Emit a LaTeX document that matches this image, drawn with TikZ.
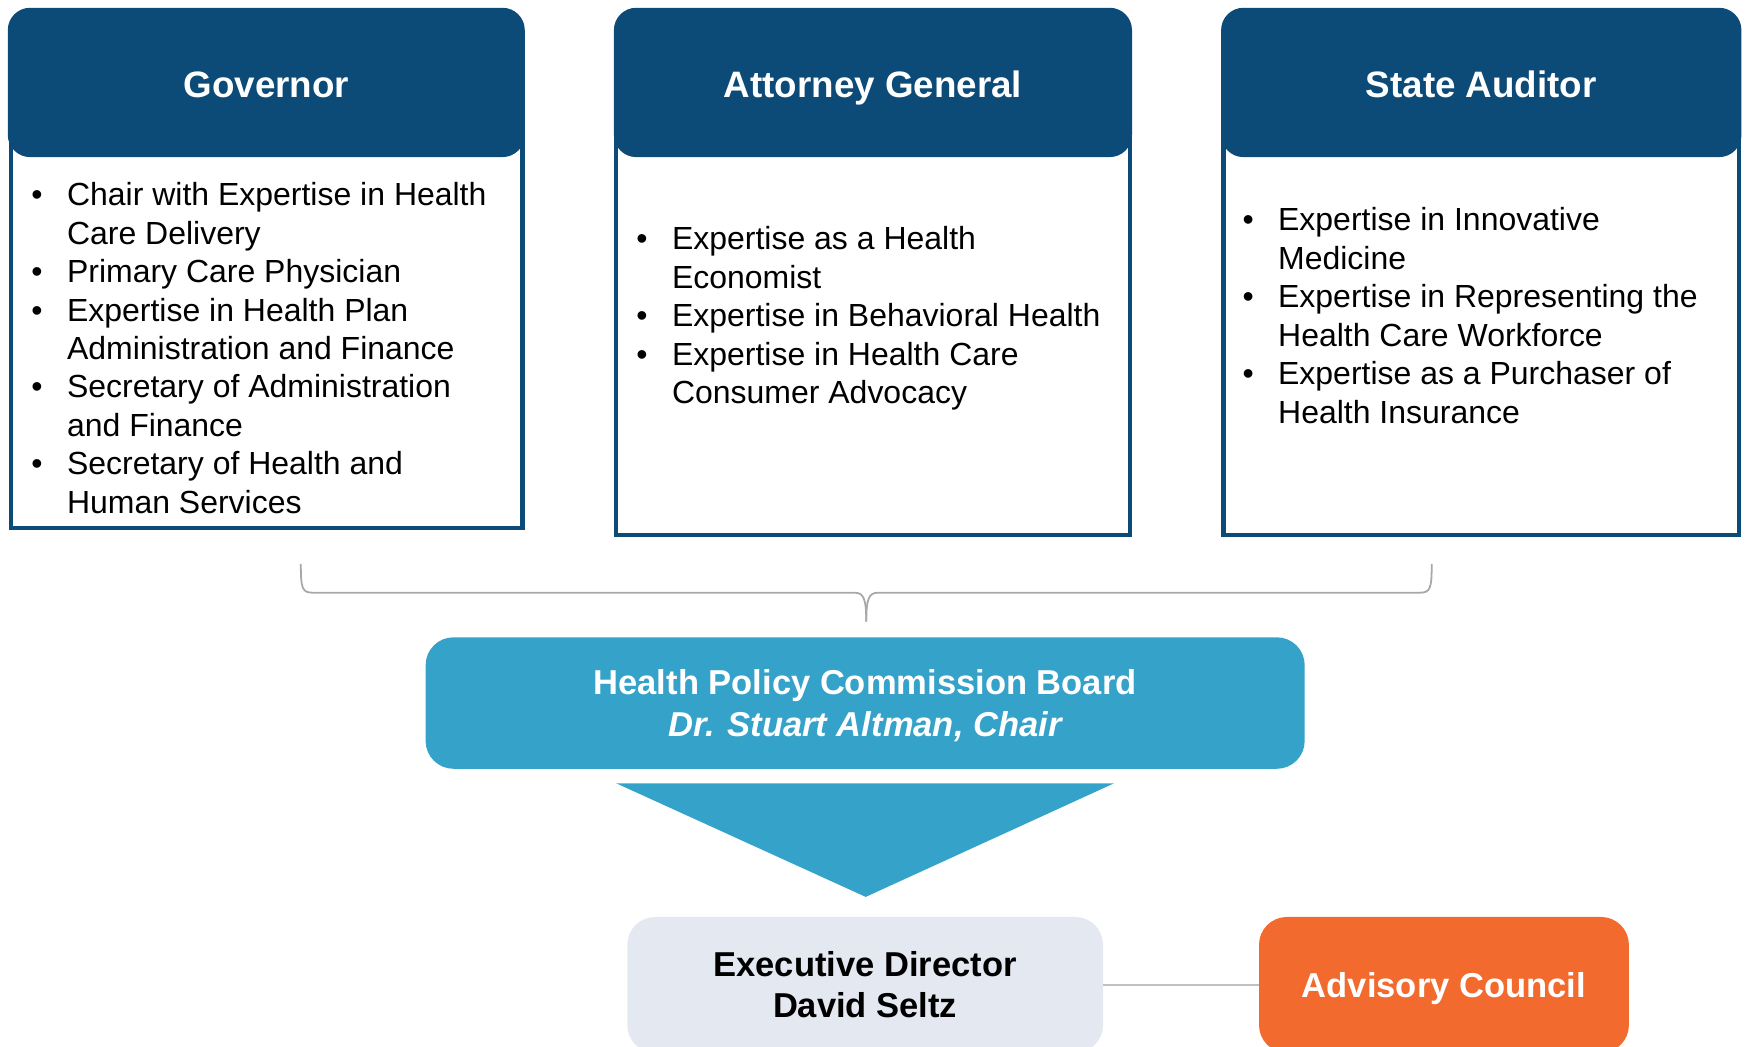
\documentclass[tikz,border=0pt]{standalone}
\usepackage{fontspec}
\setmainfont{Liberation Sans}
\definecolor{navy}{HTML}{0C4A77}
\definecolor{hpcblue}{HTML}{35A2C9}
\definecolor{execgray}{HTML}{E4E8F0}
\definecolor{advorange}{HTML}{F26A2D}
\definecolor{bracegray}{HTML}{A8A8A8}
\definecolor{linkgray}{HTML}{C0C0C0}
\begin{document}
\begin{tikzpicture}[x=1pt,y=-1pt,
  hdr/.style={fill=navy, rounded corners=20pt, text=white, inner sep=0pt,
    text height=27.2pt, text depth=0pt,
    font=\fontsize{33}{40}\selectfont\bfseries},
  boxo/.style={draw=navy, line width=4pt, inner sep=0pt},
  lst/.style={anchor=north west, inner sep=0pt, align=left,
    font=\fontsize{28.7}{34.5}\selectfont},
  bottombox/.style={rounded corners=25pt, inner sep=0pt, align=center,
    font=\fontsize{31}{37}\selectfont\bfseries},
  bracel/.style={draw=bracegray, line width=1.6pt},
  linkl/.style={draw=linkgray, line width=2pt}]
\useasboundingbox (0,0) rectangle (1568,939);
\clip (0,0) rectangle (1568,939);
% Governor
\node[boxo, minimum width=459pt, minimum height=414pt] (govb) at (239.5,267) {};
\node[hdr, minimum width=464pt, minimum height=134pt] (govh) at (239,74) {Governor};
\node[lst] (govl) at (28,160.35) {\begin{tabular}{@{}p{32pt}@{}l@{}}
• & Chair with Expertise in Health\\
  & Care Delivery\\
• & Primary Care Physician\\
• & Expertise in Health Plan\\
  & Administration and Finance\\
• & Secretary of Administration\\
  & and Finance\\
• & Secretary of Health and\\
  & Human Services
\end{tabular}};
% Attorney General
\node[boxo, minimum width=461pt, minimum height=420pt] (agb) at (783.5,270) {};
\node[hdr, minimum width=465pt, minimum height=134pt] (agh) at (783.5,74) {Attorney General};
\node[lst] (agl) at (571,199.85) {\begin{tabular}{@{}p{32pt}@{}l@{}}
• & Expertise as a Health\\
  & Economist\\
• & Expertise in Behavioral Health\\
• & Expertise in Health Care\\
  & Consumer Advocacy
\end{tabular}};
% State Auditor
\node[boxo, minimum width=463pt, minimum height=420pt] (sab) at (1329.5,270) {};
\node[hdr, minimum width=467pt, minimum height=134pt] (sah) at (1329.5,74) {State Auditor};
\node[lst] (sal) at (1115,182.85) {\begin{tabular}{@{}p{32pt}@{}l@{}}
• & Expertise in Innovative\\
  & Medicine\\
• & Expertise in Representing the\\
  & Health Care Workforce\\
• & Expertise as a Purchaser of\\
  & Health Insurance
\end{tabular}};
% brace
\draw[bracel] (270,506) .. controls (270,528) and (271,532) .. (281,532) -- (767,532)
  .. controls (775,532) and (777.5,537) .. (777.5,558);
\draw[bracel] (1285,506) .. controls (1285,528) and (1284,532) .. (1274,532) -- (788,532)
  .. controls (780,532) and (777.5,537) .. (777.5,558);
% HPC board
\node[bottombox, fill=hpcblue, text=white, minimum width=789pt, minimum height=118pt,
  text height=60pt, text depth=0pt,
  font=\fontsize{31}{38}\selectfont\bfseries] (hpc) at (776.5,631)
  {Health Policy Commission Board\\ \itshape Dr. Stuart Altman, Chair};
\fill[hpcblue] (553,703) -- (1000,703) -- (777,805) -- cycle;
% bottom
\node[bottombox, fill=execgray, text=black, minimum width=427pt, minimum height=122pt] (exec) at (776.5,884) {Executive Director\\David Seltz};
\node[bottombox, fill=advorange, text=white, minimum width=332pt, minimum height=122pt,
  text height=22pt, text depth=0pt] (adv) at (1296,884) {Advisory Council};
\draw[linkl] (exec.east) -- (adv.west);
\end{tikzpicture}
\end{document}
